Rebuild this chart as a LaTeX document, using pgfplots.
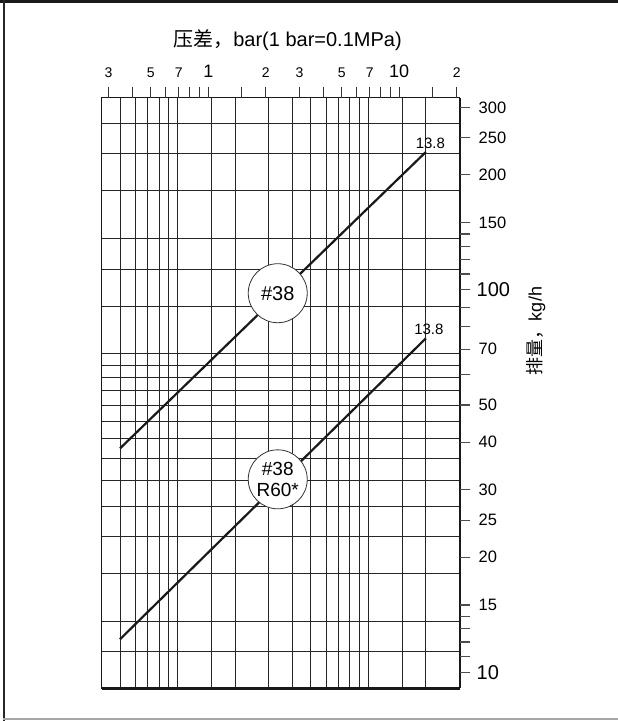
\documentclass[border=0pt]{standalone}
\usepackage{fontspec}
\setmainfont{Liberation Sans}
\newfontfamily\cjk{Noto Sans CJK SC}
\usepackage{pgfplots}
\pgfplotsset{compat=1.18}
\newcommand\fs[1]{\fontsize{#1bp}{#1bp}\selectfont}
\begin{document}
\begin{tikzpicture}[x=1bp,y=1bp]
\useasboundingbox (0,0) rectangle (618,721);
% outer frame
\draw[line width=2.7bp, black!90] (0,719.65) -- (618,719.65);
\draw[line width=2bp, black!85] (4,0) -- (4,721);
\draw[line width=1.5bp, black!35] (3,2) -- (618,2);
% grid + curves
\begin{axis}[
  at={(101.5bp,32.5bp)}, anchor=south west,
  scale only axis, width=358bp, height=590.5bp,
  xmode=log, ymode=log,
  xmin=0.275790, xmax=20.6843, ymin=9.07185, ymax=317.515,
  xtick={0.34474,0.41369,0.48263,0.55158,0.62053,1.03421,1.37895,2.06843,2.75790,3.44738,4.13685,4.82633,5.51581,6.20528,10.3421,13.7895},
  ytick={11.3398,13.6078,18.1437,22.6796,27.2155,31.7515,36.2874,40.8233,49.8952,54.4311,58.9670,63.5029,68.0389,90.7185,113.398,136.078,181.437,226.796,272.155},
  extra x ticks={0.68948,6.89476},
  extra y ticks={45.3592},
  extra x tick style={grid style={line width=2bp, black!90}},
  extra y tick style={grid style={line width=1.4bp, black!85}},
  xticklabels={}, yticklabels={}, extra x tick labels={}, extra y tick labels={},
  minor xtick={}, minor ytick={},
  major tick length=0pt,
  grid=major,
  major grid style={line width=0.9bp, black!85},
  axis line style={line width=1bp, black!90},
  clip=false,
]
\addplot[line width=2.2bp, black!90] coordinates {(0.34474,38.5) (13.7895,229.4)};
\addplot[line width=2.2bp, black!90] coordinates {(0.34474,12.2) (13.7895,74.7)};
\draw[line width=2.4bp, black!90] (axis cs:0.275790,9.07185) -- (axis cs:20.6843,9.07185);
\draw[line width=2bp, black!90] (axis cs:20.6843,9.07185) -- (axis cs:20.6843,317.515);
\node[circle, draw=black!80, line width=0.8bp, fill=white, minimum size=59bp, inner sep=0pt, font=\fs{20}] at (axis cs:2.31,98) {\#38};
\node[circle, draw=black!80, line width=0.8bp, fill=white, minimum size=59bp, inner sep=0pt, font=\fontsize{19bp}{21bp}\selectfont, align=center] at (axis cs:2.31,31.96) {\#38\\R60*};
\node[anchor=south, inner sep=0pt, xshift=4.5bp, yshift=3bp, font=\fs{15}] at (axis cs:13.7895,229.4) {13.8};
\node[anchor=south, inner sep=0pt, xshift=3bp, yshift=3bp, font=\fs{15}] at (axis cs:13.7895,74.7) {13.8};
\end{axis}
% tick axes
\begin{axis}[
  at={(101.5bp,32.5bp)}, anchor=south west,
  scale only axis, width=358bp, height=590.5bp,
  xmode=log, ymode=log,
  xmin=0.275790, xmax=20.6843, ymin=9.07185, ymax=317.515,
  axis line style={draw=none},
  xtick pos=right, xticklabel pos=right,
  ytick pos=right, yticklabel pos=right,
  tick align=outside,
  major tick length=11bp,
  minor xtick={}, minor ytick={},
  xtick={0.3,0.4,0.5,0.6,0.7,0.8,0.9,1,1.5,2,3,4,5,6,7,8,9,10,15,20},
  xticklabels={3,,5,,7,,,{\fs{18}1},,2,3,,5,,7,,,{\fs{18}10},,2},
  ytick={11,12,13,14,15,20,25,30,40,50,60,70,80,90,110,120,130,140,150,200,250,300},
  yticklabels={,,,,15,20,25,30,40,50,,70,,,,,,,150,200,250,300},
  extra y ticks={10,100},
  extra y tick labels={{\fs{20}10},{\fs{20}100}},
  extra y tick style={tick style={line width=2bp, black!90}, y tick label style={xshift=-2bp}},
  x tick label style={font=\fs{14}, inner sep=0pt, yshift=9bp},
  y tick label style={font=\fs{16.5}, inner sep=0pt, xshift=8bp},
  xtick style={line width=1bp, black!80},
  ytick style={line width=1.1bp, black!70},
]
\end{axis}
% titles
\node[font=\fs{20}] at (287.5,681) {{\cjk 压差，}bar(1 bar=0.1MPa)};
\node[font=\fs{18}, rotate=90] at (536,390) {{\cjk 排量，}kg/h};
\end{tikzpicture}
\end{document}
